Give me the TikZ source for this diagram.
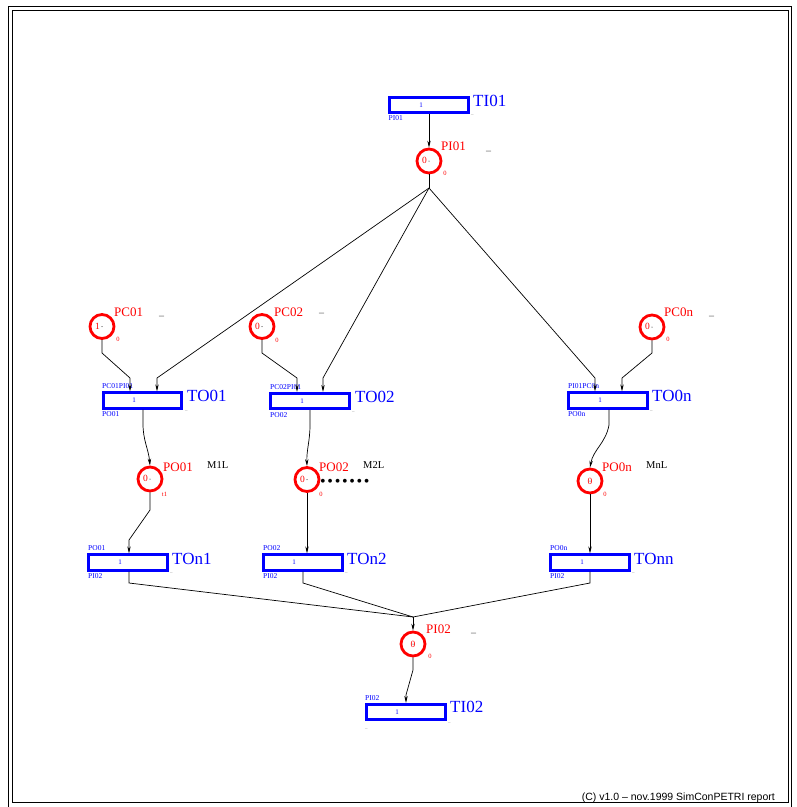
\documentclass[tikz,border=0pt]{standalone}
\usepackage{fontspec}
\setmainfont{Liberation Serif}
\newfontfamily\footfont{Liberation Sans}
\usetikzlibrary{arrows.meta}
\definecolor{tblue}{RGB}{0,0,255}
\definecolor{pred}{RGB}{255,0,0}
\begin{document}
\begin{tikzpicture}[x=1pt,y=-1pt,
  trans/.style={rectangle,draw=tblue,line width=2.8pt,minimum width=78.5pt,minimum height=15.5pt,inner sep=0pt},
  place/.style={circle,draw=pred,line width=2.8pt,minimum size=24pt,inner sep=0pt},
  arc/.style={black,line width=0.7pt,-{Stealth[length=7pt,width=3.4pt]}},
  tname/.style={text=tblue,font=\fontsize{17}{17}\selectfont,anchor=base west,inner sep=0pt},
  pname/.style={text=pred,font=\fontsize{13}{13}\selectfont,anchor=base west,inner sep=0pt},
  tlab/.style={text=tblue,font=\fontsize{7.5}{7.5}\selectfont,anchor=base west,inner sep=0pt},
  wlab/.style={text=tblue,font=\fontsize{7}{7}\selectfont,inner sep=0pt},
  plab/.style={text=pred,font=\fontsize{6.5}{6.5}\selectfont,inner sep=0pt},
  tok/.style={text=pred,font=\fontsize{9.5}{9.5}\selectfont,inner sep=0pt},
  mlab/.style={text=black,font=\fontsize{10.5}{10.5}\selectfont,anchor=base west,inner sep=0pt},
  pbar/.style={text=black!75,font=\fontsize{10}{10}\selectfont,anchor=base west,inner sep=0pt},
  tbar/.style={text=black!50,font=\fontsize{5}{5}\selectfont,anchor=base west,inner sep=0pt},
  mark dot/.style={fill=black},
]
\useasboundingbox (0,0) rectangle (797,807);

% double frame
\draw[line width=0.9pt] (8,6) rectangle (791,815);
\draw[line width=0.9pt] (12,10) rectangle (788,802);

% ---------- transitions ----------
\node[trans] (TI01) at (429,105) {};
\node[trans] (TO01) at (142.5,400.5) {};
\node[trans] (TO02) at (310,401) {};
\node[trans] (TO0n) at (608,400.5) {};
\node[trans] (TOn1) at (128,562.5) {};
\node[trans] (TOn2) at (303,562.5) {};
\node[trans] (TOnn) at (590,562.5) {};
\node[trans] (TI02) at (406,712) {};

% ---------- places ----------
\node[place] (PI01) at (429,161) {};
\node[place] (PC01) at (102,326.5) {};
\node[place] (PC02) at (262,326.5) {};
\node[place] (PC0n) at (652,327) {};
\node[place] (PO01) at (150,479) {};
\node[place] (PO02) at (307,479.5) {};
\node[place] (PO0n) at (590,481) {};
\node[place] (PI02) at (413,644) {};

% tokens and centre marks
\node[tok] (PI01k) at (424.5,160.5) {0};
\node[tok] (PC01k) at (97.5,326) {1};
\node[tok] (PC02k) at (257.5,326) {0};
\node[tok] (PC0nk) at (647.5,326.5) {0};
\node[tok] (PO01k) at (145.5,478.5) {0};
\node[tok] (PO02k) at (302.5,479) {0};
\node[tok] (PO0nk) at (590,481) {0};
\node[tok] (PI02k) at (413,644) {0};
\foreach \p in {PI01,PC01,PC02,PC0n,PO01,PO02,PO0n,PI02}
  \fill[mark dot] (\p) circle (0.5pt);

% ---------- transition labels ----------
\node[wlab] (TI01w) at (421,105) {1};
\node[tname] (TI01n) at (473,106) {TI01};
\node[tlab] (TI01b) at (388.5,120) {PI01};
\node[tbar] (TI01u) at (471,114) {\_};

\node[wlab] (TO01w) at (134,400.5) {1};
\node[tname] (TO01n) at (187,401.5) {TO01};
\node[tlab] (TO01a) at (102,388.5) {PC01PI01};
\node[tlab] (TO01b) at (102,416.5) {PO01};
\node[tbar] (TO01u) at (185,410) {\_};

\node[wlab] (TO02w) at (302,401) {1};
\node[tname] (TO02n) at (355,402.5) {TO02};
\node[tlab] (TO02a) at (270,389) {PC02PI01};
\node[tlab] (TO02b) at (270,417) {PO02};
\node[tbar] (TO02u) at (352,411) {\_};

\node[wlab] (TO0nw) at (600,400.5) {1};
\node[tname] (TO0nn) at (652,401.5) {TO0n};
\node[tlab] (TO0na) at (568,388.5) {PI01PC0n};
\node[tlab] (TO0nb) at (568,416.5) {PO0n};
\node[tbar] (TO0nu) at (650,410) {\_};

\node[wlab] (TOn1w) at (120,562.5) {1};
\node[tname] (TOn1n) at (172,564) {TOn1};
\node[tlab] (TOn1a) at (88,550.5) {PO01};
\node[tlab] (TOn1b) at (88,578.5) {PI02};
\node[tbar] (TOn1u) at (170,572) {\_};

\node[wlab] (TOn2w) at (294,562.5) {1};
\node[tname] (TOn2n) at (347,564) {TOn2};
\node[tlab] (TOn2a) at (263,550.5) {PO02};
\node[tlab] (TOn2b) at (263,578.5) {PI02};
\node[tbar] (TOn2u) at (345,572) {\_};

\node[wlab] (TOnnw) at (582,562.5) {1};
\node[tname] (TOnnn) at (634,564) {TOnn};
\node[tlab] (TOnna) at (550,550.5) {PO0n};
\node[tlab] (TOnnb) at (550,578.5) {PI02};
\node[tbar] (TOnnu) at (632,572) {\_};

\node[wlab] (TI02w) at (397,712) {1};
\node[tname] (TI02n) at (450,712.5) {TI02};
\node[tlab] (TI02a) at (365,700) {PI02};
\node[tbar] (TI02l) at (365,728) {\_};
\node[tbar] (TI02u) at (448,722) {\_};

% ---------- place labels ----------
\node[pname] (PI01n) at (441,150.5) {PI01};
\node[plab] (PI01m) at (445,173.5) {0};
\node[pbar] (PI01u) at (486,150) {\_};

\node[pname] (PC01n) at (114,316.5) {PC01};
\node[plab] (PC01m) at (118,339) {0};
\node[pbar] (PC01u) at (159,315) {\_};

\node[pname] (PC02n) at (274,316.5) {PC02};
\node[plab] (PC02m) at (277,340) {0};
\node[pbar] (PC02u) at (319,312) {\_};

\node[pname] (PC0nn) at (664,316) {PC0n};
\node[plab] (PC0nm) at (668,339) {0};
\node[pbar] (PC0nu) at (709,315) {\_};

\node[pname] (PO01n) at (163,471.5) {PO01};
\node[plab] (PO01m) at (164.5,494) {t1};
\node[mlab] (PO01l) at (207,468.5) {M1L};

\node[pname] (PO02n) at (319,471.5) {PO02};
\node[plab] (PO02m) at (321,494) {0};
\node[mlab] (PO02l) at (363,468.5) {M2L};
\node[anchor=west,inner sep=0pt,font=\fontsize{16}{16}\selectfont] (PO02d) at (320,483)
  {•\kern1.7pt•\kern1.7pt•\kern1.7pt•\kern1.7pt•\kern1.7pt•\kern1.7pt•};

\node[pname] (PO0nn) at (602,471.5) {PO0n};
\node[plab] (PO0nm) at (605,494.5) {0};
\node[mlab] (PO0nl) at (646,468.5) {MnL};

\node[pname] (PI02n) at (426,633.5) {PI02};
\node[plab] (PI02m) at (430,656) {0};
\node[pbar] (PI02u) at (471,632) {\_};

% ---------- bend points ----------
\coordinate (fork) at (429,188);
\coordinate (a1) at (157,378);
\coordinate (a2) at (323,378);
\coordinate (a3) at (595,378);
\coordinate (c1a) at (102,353);  \coordinate (c1b) at (130,378);
\coordinate (c2a) at (262,353);  \coordinate (c2b) at (297,378);
\coordinate (c3a) at (652,353);  \coordinate (c3b) at (622,378);
\coordinate (o1) at (143,424);
\coordinate (o2) at (310,425);
\coordinate (o3) at (609,425);
\coordinate (q1a) at (150,510);  \coordinate (q1b) at (129,540);
\coordinate (r1) at (129,583);
\coordinate (r2) at (303,583);
\coordinate (r3) at (590,583);
\coordinate (join) at (413,617);
\coordinate (s1) at (413,670);   \coordinate (s2) at (406,695);

% ---------- arcs ----------
\draw[arc] (TI01.south) -- (PI01.north);
\draw[line width=0.7pt] (PI01.south) -- (fork);
\draw[arc] (fork) -- (a1) -- (a1 |- TO01.north);
\draw[arc] (fork) -- (a2) -- (a2 |- TO02.north);
\draw[arc] (fork) -- (a3) -- (a3 |- TO0n.north);

\draw[arc] (PC01.south) -- (c1a) -- (c1b) -- (c1b |- TO01.north);
\draw[arc] (PC02.south) -- (c2a) -- (c2b) -- (c2b |- TO02.north);
\draw[arc] (PC0n.south) -- (c3a) -- (c3b) -- (c3b |- TO0n.north);

\draw[arc] (o1 |- TO01.south) -- (o1) to[out=-90,in=95] (PO01.north);
\draw[arc] (o2 |- TO02.south) -- (o2) to[out=-90,in=92] (PO02.north);
\draw[arc] (o3 |- TO0n.south) -- (o3) to[out=-100,in=80] (PO0n.north);

\draw[arc] (PO01.south) -- (q1a) -- (q1b) -- (q1b |- TOn1.north);
\draw[arc] (PO02.south) -- (PO02.south |- TOn2.north);
\draw[arc] (PO0n.south) -- (PO0n.south |- TOnn.north);

\draw[line width=0.7pt] (r1 |- TOn1.south) -- (r1) -- (join);
\draw[line width=0.7pt] (r2 |- TOn2.south) -- (r2) -- (join);
\draw[line width=0.7pt] (r3 |- TOnn.south) -- (r3) -- (join);
\draw[arc] (join) -- (PI02.north);

\draw[arc] (PI02.south) -- (s1) -- (s2) -- (s2 |- TI02.north);

% footer
\node[anchor=base east,inner sep=0pt,font=\footfont\fontsize{10.5}{10.5}\selectfont] (foot) at (775,800)
  {(C) v1.0 – nov.1999 SimConPETRI report};
\end{tikzpicture}
\end{document}
